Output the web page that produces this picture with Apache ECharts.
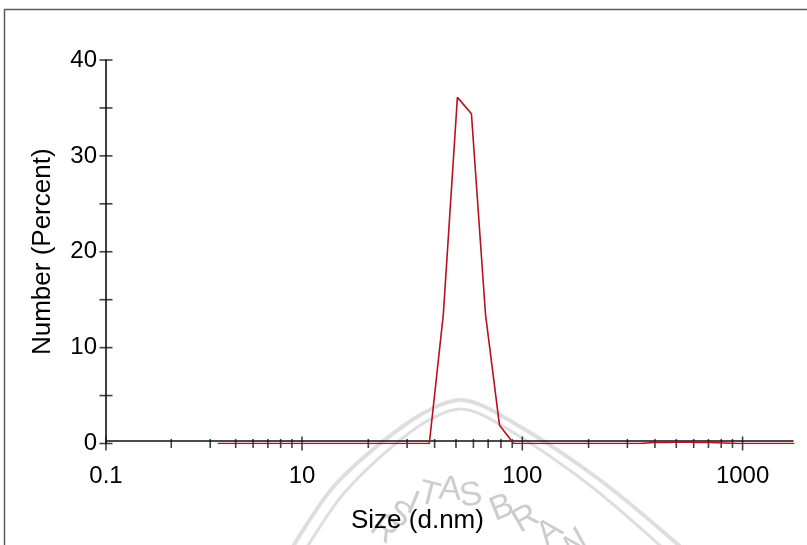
<!DOCTYPE html>
<html>
<head>
<meta charset="utf-8">
<title>Size distribution by number</title>
<script src="https://cdn.jsdelivr.net/npm/echarts@6/dist/echarts.min.js"></script>
<style>
  html, body { margin: 0; padding: 0; background: #fff; }
  #chart { width: 807px; height: 545px; }
</style>
</head>
<body>
<div id="chart"></div>
<script>
// size bins (d.nm) and number distribution (%)
var sizes = [4.145, 37.84, 43.82, 50.75, 58.77, 68.06, 78.82, 91.28, 342.0, 396.1, 458.7, 531.2, 615.1, 712.4, 825.0, 955.4, 1718];
var numberPct = [0, 0, 13.5, 36.1, 34.4, 13.5, 1.9, 0, 0, 0.1, 0.1, 0.15, 0.1, 0.1, 0.05, 0, 0];

// axis range and ticks
var X_MIN = 1.289;
var X_MAX = 1694;
var xLabelValues = [X_MIN, 10, 100, 1000];
var xLabelText = ["0.1", "10", "100", "1000"];
var xMajorTicks = [X_MIN, 10, 100, 1000];
var xMinorTicks = [2.55, 3.83, 5, 6, 7, 8, 9, 20, 30, 40, 50, 60, 70, 80, 90, 200, 300, 400, 500, 600, 700, 800, 900];
var yTicks = [0, 5, 10, 15, 20, 25, 30, 35, 40];

// faint watermark letters: text, x, y, rotation (deg)
var wmLetters = [
  ["R", 384, 530, 38], ["S", 399, 515, 30], ["I", 413, 504, 22], ["T", 429, 495, 14],
  ["A", 450, 490, 4], ["S", 471, 496, -8], ["B", 502, 508, -22], ["R", 526, 519, -30],
  ["A", 550, 532, -38], ["W", 574, 547, -45]
];

var FONT = "'Liberation Sans', Arial, sans-serif";

var myChart = echarts.init(document.getElementById("chart"));

var graphics = [
  {
    type: "rect",
    shape: { x: 4.5, y: 9.5, width: 900, height: 700 },
    style: { fill: "none", stroke: "#5a5a5a", lineWidth: 1.5 },
    silent: true
  },
  {
    type: "polyline",
    z: -10,
    shape: { points: [[285, 560], [335, 485], [412, 420], [461, 400], [509, 420], [600, 480], [690, 555]], smooth: 0.3 },
    style: { fill: "none", stroke: "#dedede", lineWidth: 4 },
    silent: true
  },
  {
    type: "polyline",
    z: -10,
    shape: { points: [[298, 562], [345, 492], [416, 428], [461, 409], [506, 428], [592, 487], [676, 560]], smooth: 0.3 },
    style: { fill: "none", stroke: "#dedede", lineWidth: 3 },
    silent: true
  }
];
wmLetters.forEach(function(l) {
  graphics.push({
    type: "text",
    z: -10,
    x: l[1],
    y: l[2],
    rotation: -l[3] * Math.PI / 180,
    style: {
      text: l[0],
      fill: "#cdcdcd",
      font: "34px " + FONT,
      align: "center",
      verticalAlign: "middle"
    },
    silent: true
  });
});

var option = {
  animation: false,
  backgroundColor: "#fff",
  title: {
    text: "Size (d.nm)",
    left: 346,
    top: 503,
    textStyle: { fontFamily: FONT, fontSize: 26, fontWeight: "normal", color: "#000" }
  },
  graphic: graphics,
  grid: { left: 106, right: 14, top: 60, bottom: 101.5 },
  xAxis: {
    type: "log",
    min: X_MIN,
    max: X_MAX,
    offset: -3,
    axisLine: { onZero: false, lineStyle: { color: "#111", width: 1.6 } },
    axisTick: { show: false },
    splitLine: { show: false },
    axisLabel: {
      showMinLabel: true,
      showMaxLabel: false,
      margin: 24,
      fontFamily: FONT,
      fontSize: 24,
      color: "#000",
      formatter: function(v) {
        for (var i = 0; i < xLabelValues.length; i++) {
          if (Math.abs(v - xLabelValues[i]) / xLabelValues[i] < 1e-3) return xLabelText[i];
        }
        return "";
      }
    }
  },
  yAxis: {
    type: "value",
    min: 0,
    max: 40,
    interval: 10,
    name: "Number (Percent)",
    nameLocation: "middle",
    nameRotate: 90,
    nameGap: 50,
    nameTextStyle: { fontFamily: FONT, fontSize: 26, color: "#000" },
    axisLine: { show: true, lineStyle: { color: "#111", width: 1.6 } },
    axisTick: { show: false },
    splitLine: { show: false },
    axisLabel: { margin: 9, fontFamily: FONT, fontSize: 24, color: "#000" }
  },
  series: [
    {
      name: "ticks-x-major",
      type: "scatter",
      silent: true,
      symbol: "rect",
      symbolSize: [1.6, 14],
      itemStyle: { color: "#111" },
      data: xMajorTicks.map(function(v) { return [v, 0]; }),
      z: 4
    },
    {
      name: "ticks-x-minor",
      type: "scatter",
      silent: true,
      symbol: "rect",
      symbolSize: [1.6, 9],
      itemStyle: { color: "#111" },
      data: xMinorTicks.map(function(v) { return [v, 0]; }),
      z: 4
    },
    {
      name: "ticks-y",
      type: "scatter",
      silent: true,
      symbol: "rect",
      symbolSize: [13, 1.6],
      itemStyle: { color: "#111" },
      data: yTicks.map(function(v) { return [X_MIN, v]; }),
      z: 4
    },
    {
      name: "Number",
      type: "line",
      showSymbol: false,
      clip: true,
      lineStyle: { color: "#b8101c", width: 1.6 },
      data: sizes.map(function(s, i) { return [s, numberPct[i]]; }),
      z: 5
    }
  ]
};

myChart.setOption(option);
</script>
</body>
</html>
